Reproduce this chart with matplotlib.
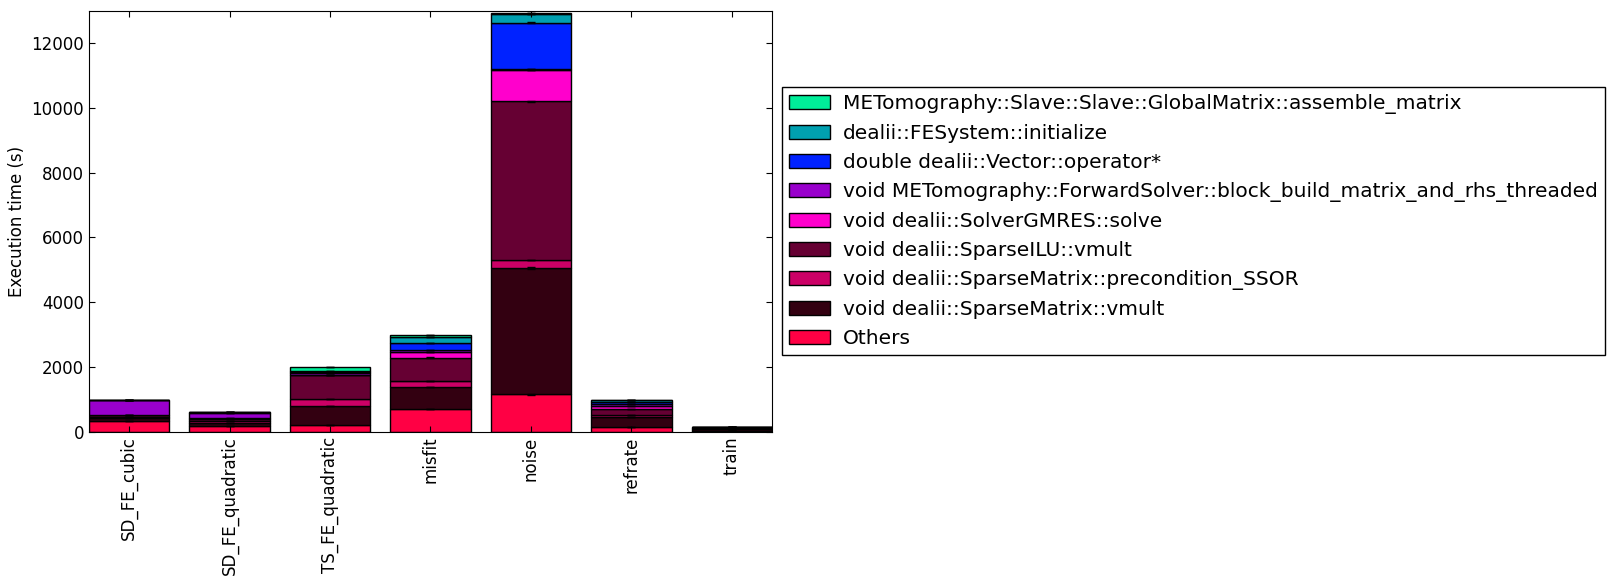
import numpy as np
import matplotlib
matplotlib.use("Agg")
import matplotlib.pyplot as plt

# benchmarks on the x axis
benchmarks = ["SD_FE_cubic", "SD_FE_quadratic", "TS_FE_quadratic",
              "misfit", "noise", "refrate", "train"]

# stacked from bottom to top
labels = [
    "Others",
    "void dealii::SparseMatrix::vmult",
    "void dealii::SparseMatrix::precondition_SSOR",
    "void dealii::SparseILU::vmult",
    "void dealii::SolverGMRES::solve",
    "void METomography::ForwardSolver::block_build_matrix_and_rhs_threaded",
    "double dealii::Vector::operator*",
    "dealii::FESystem::initialize",
    "METomography::Slave::Slave::GlobalMatrix::assemble_matrix",
]
colors = ["#FF0044", "#330011", "#CC0066", "#660033", "#FF00CC",
          "#9900CC", "#0022FF", "#00A0B0", "#00EE99"]

# execution times (s) per function, one value per benchmark
others      = [330, 175, 200, 700, 1160, 150, 20]
sm_vmult    = [80, 85, 600, 680, 3890, 300, 60]
ssor        = [40, 70, 200, 175, 260, 60, 10]
ilu_vmult   = [70, 70, 740, 730, 4890, 200, 30]
gmres       = [0, 20, 20, 170, 980, 80, 10]
block_build = [450, 160, 40, 50, 20, 70, 5]
vec_mult    = [0, 10, 30, 230, 1430, 55, 5]
fe_init     = [0, 10, 50, 185, 270, 50, 2]
assemble    = [10, 5, 110, 75, 30, 25, 2]

# std dev of repeated runs
err_others = [2, 1, 2, 5, 15, 1, 0]
err_vmult  = [0, 0, 2, 10, 20, 1, 0]
err_ilu    = [0, 0, 2, 5, 25, 1, 0]
err_vec    = [0, 0, 0, 2, 20, 0, 0]

series = [others, sm_vmult, ssor, ilu_vmult, gmres, block_build,
          vec_mult, fe_init, assemble]
errors = [err_others, err_vmult, [0] * 7, err_ilu, [0] * 7, [0] * 7,
          err_vec, [0] * 7, [0] * 7]

plt.rcParams["font.family"] = "DejaVu Sans"
plt.rcParams["xtick.direction"] = "in"
plt.rcParams["ytick.direction"] = "in"
plt.rcParams["xtick.top"] = True
plt.rcParams["ytick.right"] = True

fig = plt.figure(figsize=(16.12, 5.84), dpi=100)
ax = fig.add_axes([0.0552, 0.261, 0.4237, 0.7207])

x = np.arange(len(benchmarks))
bottom = np.zeros(len(benchmarks))
handles = []
for vals, err, lab, col in zip(series, errors, labels, colors):
    vals = np.array(vals, dtype=float)
    b = ax.bar(x, vals, 0.8, bottom=bottom, color=col, edgecolor="black",
               linewidth=1, label=lab, yerr=err, ecolor="black",
               error_kw=dict(capsize=3, elinewidth=1, capthick=1))
    handles.append(b)
    bottom += vals

ax.set_xlim(-0.4, len(benchmarks) - 0.6)
ax.set_ylim(0, 13000)
ax.set_yticks(np.arange(0, 13000, 2000))
ax.set_xticks(x)
ax.set_xticklabels(benchmarks, rotation=90)
ax.tick_params(labelsize=12, length=4)
ax.set_ylabel("Execution time (s)", fontsize=12)

leg = ax.legend(handles[::-1], labels[::-1], loc="center left",
                bbox_to_anchor=(1.015, 0.5), fontsize=14.5, fancybox=False,
                edgecolor="black", framealpha=1, borderaxespad=0,
                labelspacing=0.5, handletextpad=0.65, borderpad=0.35)
leg.get_frame().set_linewidth(1)

fig.savefig("out.png", dpi=100)
